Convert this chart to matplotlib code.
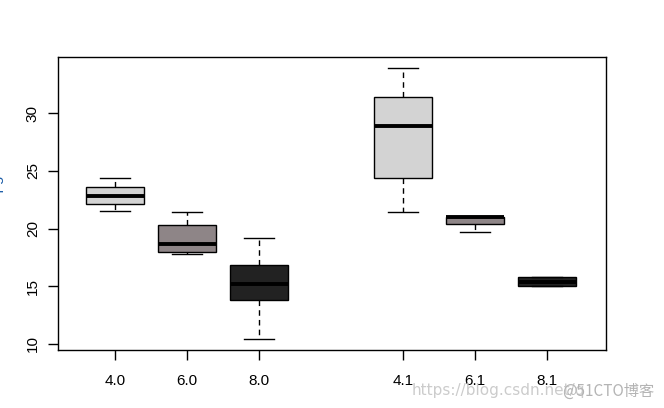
import matplotlib
matplotlib.use("Agg")
import matplotlib.pyplot as plt
import numpy as np

# mpg values split by cyl.am
labels = ["4.0", "6.0", "8.0", "4.1", "6.1", "8.1"]
positions = [1, 2, 3, 5, 6, 7]
mpg_4_0 = [24.4, 22.8, 21.5]
mpg_6_0 = [21.4, 18.1, 19.2, 17.8]
mpg_8_0 = [18.7, 14.3, 16.4, 17.3, 15.2, 10.4, 10.4, 14.7, 15.5, 15.2, 13.3, 19.2]
mpg_4_1 = [22.8, 32.4, 30.4, 33.9, 27.3, 26.0, 30.4, 21.4]
mpg_6_1 = [21.0, 21.0, 19.7]
mpg_8_1 = [15.8, 15.0]
colors = ["#d3d3d3", "#8e8587", "#222222", "#d3d3d3", "#8e8587", "#222222"]

groups = [mpg_4_0, mpg_6_0, mpg_8_0, mpg_4_1, mpg_6_1, mpg_8_1]


def fivenum(x):
    # Tukey hinges, like R's boxplot.stats
    x = np.sort(np.asarray(x, float))
    n = len(x)
    n4 = np.floor((n + 3) / 2) / 2
    d = np.array([1, n4, (n + 1) / 2, n + 1 - n4, n]) - 1
    return 0.5 * (x[np.floor(d).astype(int)] + x[np.ceil(d).astype(int)])


stats = []
for g in groups:
    f = fivenum(g)
    iqr = f[3] - f[1]
    arr = np.asarray(g)
    lo = arr[arr >= f[1] - 1.5 * iqr].min()
    hi = arr[arr <= f[3] + 1.5 * iqr].max()
    stats.append(dict(med=f[2], q1=f[1], q3=f[3], whislo=lo, whishi=hi, fliers=[]))

plt.rcParams['font.family'] = ['Liberation Sans', 'DejaVu Sans']

fig = plt.figure(figsize=(6.64, 4.08), dpi=100)
ax = fig.add_axes([58/664, 1-350/408, 548/664, 293/408])

bp = ax.bxp(stats, positions=positions, widths=0.8,
            patch_artist=True, manage_ticks=False,
            medianprops=dict(color="black", linewidth=2.8, solid_capstyle="butt"),
            whiskerprops=dict(color="black", linewidth=1, linestyle=(0, (4, 3))),
            capprops=dict(color="black", linewidth=1),
            boxprops=dict(edgecolor="black", linewidth=1),
            capwidths=0.42, showfliers=False)
for patch, c in zip(bp["boxes"], colors):
    patch.set_facecolor(c)

ax.set_xlim(0.21, 7.82)
ax.set_ylim(9.48, 34.85)
ax.set_xticks(positions)
ax.set_xticklabels(labels)
ax.set_yticks([10, 15, 20, 25, 30])
ax.set_yticklabels(["10", "15", "20", "25", "30"], rotation=90, va="center")
ax.tick_params(axis="both", length=7, width=1, labelsize=11, colors="black")
ax.tick_params(axis="x", pad=10)
ax.tick_params(axis="y", pad=6)
for s in ax.spines.values():
    s.set_linewidth(1)
    s.set_color("black")

# clipped axis label on the left edge
fig.text(3/664, 1-189/408, "mpg", color="#1f5fa8", rotation=90, fontsize=11,
         ha="right", va="center")

# watermark
fig.text(412/664, 1-391/408, "https://blog.csdn.net/q", color="#cccccc", fontsize=11,
         ha="left", va="center", family=["DejaVu Sans"])
fig.text(654/664, 1-391/408, "@51CTO博客", color="#b4b4b4", fontsize=11,
         ha="right", va="center", family=["Noto Sans CJK SC", "DejaVu Sans"])

fig.savefig("out.png", dpi=100)
